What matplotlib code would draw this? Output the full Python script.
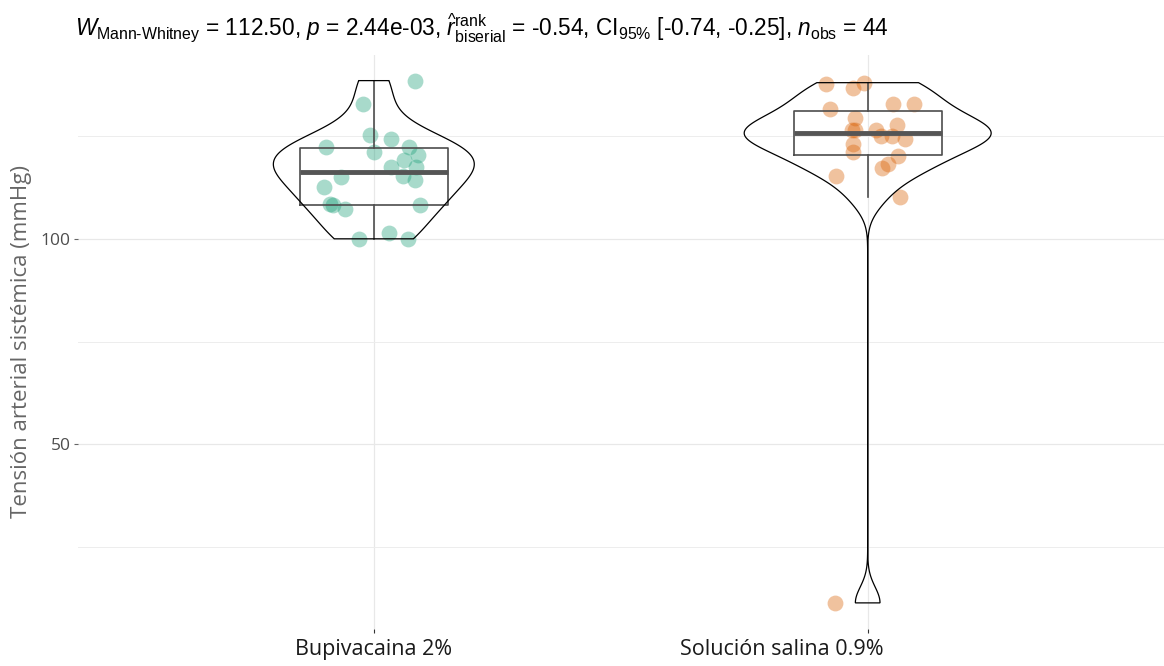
import numpy as np
import matplotlib.pyplot as plt
from matplotlib.transforms import ScaledTranslation

plt.rcParams['mathtext.fontset'] = 'custom'
plt.rcParams['mathtext.rm'] = 'Liberation Sans'
plt.rcParams['mathtext.it'] = 'Liberation Sans:italic'
plt.rcParams['mathtext.bf'] = 'Liberation Sans:bold'

# data
groups = ["Bupivacaina 2%", "Solución salina 0.9%"]
colors = ["#1B9E77", "#D95F02"]

bupi = [138.5, 132.7, 125.2, 124.3, 122.4, 122.4, 121.1, 120.4, 119.3, 117.4, 117.5,
        115.2, 115.1, 114.2, 112.6, 108.5, 108.3, 107.2, 108.3, 100.0, 101.5, 100.0]
bupi_jit = [0.083, -0.022, -0.008, 0.035, -0.096, 0.072, 0.001, 0.089, 0.062, 0.086, 0.034,
            0.059, -0.066, 0.083, -0.100, -0.089, -0.083, -0.058, 0.094, -0.029, 0.030, 0.069]

salina = [137.6, 136.6, 138.0, 131.7, 132.7, 132.7, 129.3, 126.4, 126.4, 126.6, 125.0,
          125.1, 127.6, 124.3, 123.1, 121.1, 120.2, 118.2, 117.2, 115.2, 110.1, 11.4]
salina_jit = [-0.085, -0.030, -0.008, -0.077, 0.051, 0.094, -0.026, -0.032, -0.026, 0.017, 0.026,
              0.049, 0.059, 0.076, -0.030, -0.030, 0.061, 0.042, 0.028, -0.065, 0.066, -0.067]

title = (r"$W_{\mathrm{Mann‐Whitney}}$ = 112.50, $p$ = 2.44e-03, "
         r"$\widehat{r}_{\mathrm{biserial}}^{\mathrm{rank}}$ = -0.54, "
         r"CI$_{95\%}$ [-0.74, -0.25], $n_{\mathrm{obs}}$ = 44")
ylabel = "Tensión arterial sistémica (mmHg)"


def kde_trim(v, n=512):
    # gaussian kde, bw.nrd0, evaluated only over the data range (trim)
    v = np.asarray(v, dtype=float)
    sd = v.std(ddof=1)
    q1, q3 = np.percentile(v, [25, 75])
    bw = 0.9 * min(sd, (q3 - q1) / 1.34) * len(v) ** -0.2
    grid = np.linspace(v.min(), v.max(), n)
    d = np.exp(-0.5 * ((grid[:, None] - v[None, :]) / bw) ** 2).sum(1)
    d = d / (len(v) * bw * np.sqrt(2 * np.pi))
    return grid, d


fig = plt.figure(figsize=(11.64, 6.66), dpi=100)
ax = fig.add_axes([77.5 / 1164, 37 / 666, 1 - 77.5 / 1164, (629 - 54.5) / 666])

data = [bupi, salina]
jits = [bupi_jit, salina_jit]
pos = [1, 2]

for i in range(2):
    ax.scatter(pos[i] + np.array(jits[i]), data[i], s=130, color=colors[i],
               alpha=0.38, lw=0, zorder=2)

ax.boxplot(data, positions=pos, widths=0.3, whis=1.5, showfliers=False, showcaps=False,
           boxprops=dict(color='#4d4d4d', lw=1.2),
           whiskerprops=dict(color='#4d4d4d', lw=1.2),
           medianprops=dict(color='#555555', lw=3.5), zorder=3)

dens = [kde_trim(d) for d in data]
dmax = max(d.max() for g, d in dens)
for i, (g, d) in enumerate(dens):
    half = d / dmax * 0.25
    xs = np.concatenate([pos[i] - half, (pos[i] + half)[::-1]])
    ys = np.concatenate([g, g[::-1]])
    ax.fill(xs, ys, facecolor='none', edgecolor='black', lw=0.9, zorder=4)

allv = np.concatenate(data)
rng = allv.max() - allv.min()
ax.set_ylim(allv.min() - 0.05 * rng, allv.max() + 0.05 * rng)
ax.set_xlim(0.4, 2.6)

ax.set_xticks(pos)
ax.set_xticklabels(groups, fontsize=15.5, color='#1a1a1a', family='Open Sans')
ax.set_yticks([50, 100])
ax.set_yticks([25, 75, 125], minor=True)
ax.tick_params(axis='y', which='major', labelsize=12.5, labelcolor='#4d4d4d',
               color='#666666', length=3, width=0.8, pad=2)
ax.tick_params(axis='y', which='minor', length=0)
ax.tick_params(axis='x', color='#333333', length=3, width=0.8, pad=4)
for t in ax.get_yticklabels():
    t.set_family('Open Sans')

# second label sits left of its tick in the reference
lab = ax.get_xticklabels()[1]
lab.set_transform(lab.get_transform() + ScaledTranslation(-0.86, 0, fig.dpi_scale_trans))

ax.grid(True, which='major', color='#e8e8e8', lw=0.9)
ax.grid(True, which='minor', axis='y', color='#ededed', lw=0.7)
ax.set_axisbelow(True)
for s in ax.spines.values():
    s.set_visible(False)

ax.set_ylabel(ylabel, fontsize=16, color='#666666', family='Open Sans', labelpad=6)

fig.text(75 / 1164, 1 - 28 / 666, title, fontsize=16.3, family='Liberation Sans',
         ha='left', va='center', color='black')

fig.savefig('out.png', dpi=100)
